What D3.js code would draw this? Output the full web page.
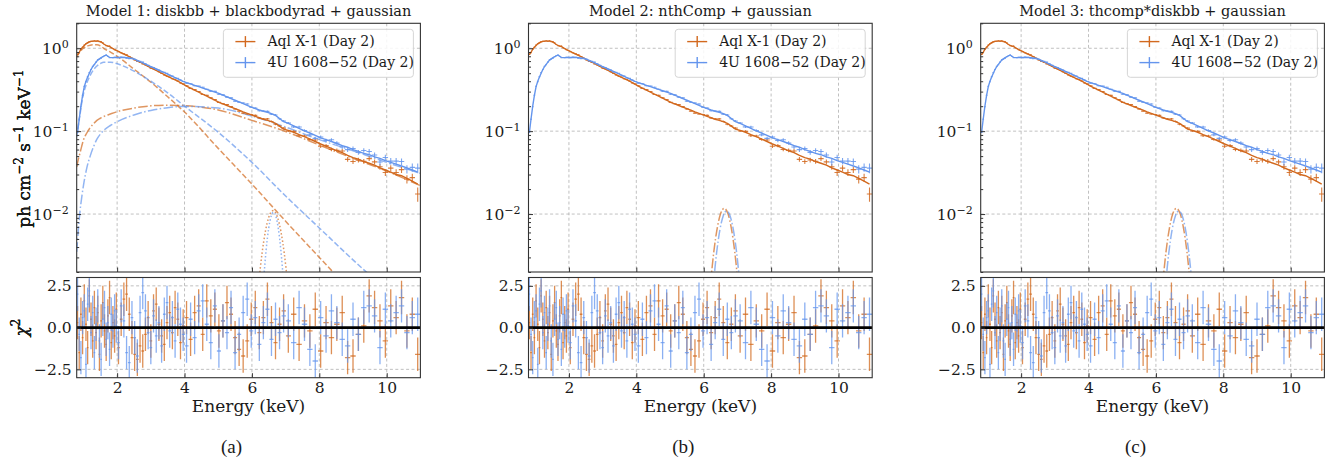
<!DOCTYPE html>
<html lang="en">
<head>
<meta charset="utf-8">
<title>Aql X-1 / 4U 1608-52 spectral fits</title>
<script src="https://d3js.org/d3.v7.min.js"></script>
<style>
  body { margin: 0; background: #fff; }
  svg { font-family: "DejaVu Serif", serif; }
</style>
</head>
<body>
<svg width="1330" height="464"></svg>
<script>
// ---- data ----
const titles = ["Model 1: diskbb + blackbodyrad + gaussian", "Model 2: nthComp + gaussian", "Model 3: thcomp*diskbb + gaussian"];
const captions = ["(a)", "(b)", "(c)"];
const seriesNames = ["Aql X-1 (Day 2)", "4U 1608\u221252 (Day 2)"];
const xTicks = [2, 4, 6, 8, 10];
const logTicks = [0.01, 0.1, 1];
const logTickExp = ["\u22122", "\u22121", "0"];
const resTicks = [-2.5, 0, 2.5];
const resTickLabels = ["\u22122.5", "0.0", "2.5"];

// bin centres (keV)
const energy = [0.825,0.875,0.925,0.975,1.025,1.075,1.125,1.175,1.225,1.275,1.325,1.375,1.425,1.475,1.525,1.575,1.625,1.675,1.725,1.775,1.825,1.875,1.925,1.975,
  2.04,2.12,2.20,2.28,2.36,2.44,2.52,2.60,2.68,2.76,2.84,2.92,3.00,3.08,3.16,3.24,3.32,3.40,3.48,3.56,3.64,3.72,3.80,3.88,3.96,
  4.06,4.18,4.30,4.42,4.54,4.66,4.78,4.90,5.02,5.14,5.26,5.38,5.50,5.62,5.74,5.86,5.98,6.10,6.22,6.34,6.46,6.58,6.70,6.82,6.94,
  7.08,7.24,7.40,7.56,7.72,7.88,8.04,8.20,8.36,8.52,8.68,8.84,9.00,9.16,9.32,9.48,9.64,9.80,9.96,10.12,10.28,10.44,10.60,10.76,10.92];

// total model flux (ph cm^-2 s^-1 keV^-1)
const aqlModel = [0.84,0.90,0.97,1.03,1.08,1.13,1.17,1.19,1.21,1.22,1.22,1.22,1.22,1.21,1.19,1.15,1.11,1.08,1.06,1.05,1.02,0.99,0.965,0.94,
  0.915,0.88,0.85,0.82,0.79,0.76,0.73,0.705,0.68,0.655,0.63,0.605,0.58,0.56,0.54,0.52,0.50,0.48,0.46,0.445,0.43,0.415,0.40,0.385,0.37,
  0.350,0.331,0.313,0.296,0.279,0.264,0.250,0.236,0.223,0.213,0.204,0.195,0.187,0.179,0.171,0.164,0.157,0.151,0.145,0.139,0.135,0.130,0.124,0.115,0.106,
  0.102,0.097,0.091,0.086,0.080,0.075,0.070,0.066,0.062,0.058,0.055,0.051,0.048,0.046,0.043,0.041,0.039,0.036,0.034,0.032,0.030,0.029,0.027,0.025,0.023];
const sourceModel = [0.095,0.14,0.20,0.27,0.345,0.40,0.45,0.50,0.555,0.60,0.64,0.68,0.72,0.745,0.77,0.79,0.81,0.83,0.80,0.775,0.77,0.77,0.775,0.775,
  0.775,0.775,0.775,0.77,0.762,0.752,0.738,0.714,0.69,0.667,0.645,0.623,0.602,0.582,0.562,0.543,0.525,0.507,0.49,0.474,0.458,0.442,0.427,0.413,0.399,
  0.385,0.371,0.357,0.344,0.331,0.319,0.307,0.296,0.285,0.272,0.259,0.247,0.236,0.225,0.215,0.205,0.195,0.187,0.180,0.174,0.169,0.163,0.155,0.142,0.130,
  0.124,0.116,0.108,0.101,0.095,0.089,0.083,0.079,0.075,0.071,0.067,0.064,0.060,0.057,0.054,0.052,0.049,0.047,0.044,0.042,0.040,0.038,0.036,0.034,0.032];

// relative 1-sigma error of each bin
const relErr = [0.012,0.010,0.009,0.008,0.008,0.007,0.007,0.007,0.007,0.007,0.007,0.007,0.007,0.007,0.007,0.007,0.007,0.007,0.007,0.007,0.007,0.007,0.007,0.007,
  0.007,0.007,0.007,0.008,0.008,0.008,0.008,0.008,0.009,0.009,0.009,0.009,0.009,0.010,0.010,0.010,0.010,0.010,0.011,0.011,0.011,0.011,0.012,0.012,0.012,
  0.013,0.013,0.014,0.014,0.015,0.015,0.016,0.016,0.017,0.017,0.018,0.018,0.019,0.019,0.020,0.021,0.021,0.022,0.022,0.023,0.024,0.024,0.025,0.026,0.027,
  0.030,0.032,0.034,0.036,0.038,0.040,0.043,0.046,0.049,0.052,0.055,0.058,0.061,0.065,0.069,0.073,0.077,0.081,0.086,0.091,0.096,0.102,0.110,0.125,0.150];

// residuals (sigma)
const aqlResid = [0.3,-1.5,0.8,-0.6,1.6,0.2,-1.2,1.9,0.5,-0.8,1.2,-0.3,0.9,-1.6,0.4,1.5,-0.2,-1.0,0.7,1.8,-0.9,0.3,-0.5,1.1,
  -1.2,0.5,1.7,2.0,0.8,-0.6,-1.6,-1.9,-1.1,-1.4,-0.4,0.6,-0.8,1.0,1.4,0.2,-0.5,-1.0,0.3,0.9,-0.3,1.2,0.5,-0.9,0.1,
  0.6,-0.7,0.9,1.3,-0.4,1.6,0.7,1.1,-0.2,0.4,1.5,0.8,-0.6,-1.3,-1.7,-0.8,0.5,1.2,-0.3,0.6,1.7,0.3,-0.9,0.2,1.0,
  -0.5,0.8,-1.0,0.4,-0.2,1.1,-1.4,0.3,-0.6,0.2,0.9,-1.8,-1.7,-0.4,0.1,1.9,1.2,0.4,-0.8,1.3,0.6,1.8,-0.2,0.8,-1.6];
const sourceResid = [2.0,-0.4,-1.8,0.6,1.0,-2.2,1.4,2.2,-0.3,0.9,-1.5,0.2,1.3,-0.8,-1.9,0.5,1.2,-0.7,0.3,-1.3,0.8,-0.2,1.0,0.1,
  -0.9,1.3,0.4,-1.5,-2.1,0.6,-0.6,-1.7,0.9,2.1,1.0,-0.3,-1.2,0.7,-0.5,0.3,-1.1,0.8,1.5,-0.2,0.6,-0.8,1.1,0.2,-0.4,
  -1.1,0.5,-0.6,1.0,1.6,0.2,-0.9,1.3,-1.4,0.4,-0.3,1.2,-1.5,-0.4,0.9,1.7,-0.2,0.6,-1.0,0.3,1.1,-0.7,0.5,-0.3,0.7,
  0.4,-0.9,1.2,0.2,-1.3,-2.0,0.6,-0.5,1.0,0.3,-0.7,-1.1,0.5,-0.4,1.2,1.3,0.7,-1.2,1.1,0.4,0.9,1.3,-0.3,0.6,0.8];

// model 1 components
const compE = [0.8,0.85,0.9,0.95,1.0,1.1,1.2,1.3,1.4,1.5,1.6,1.8,2.0,2.5,3.0,3.5,4.0,5.0,6.0,7.0,8.0,9.0,10.0,11.0];
const aqlDisk = [0.78,0.85,0.91,0.96,1.0,1.06,1.09,1.1,1.1,1.07,1.0,0.9,0.80,0.56,0.39,0.26,0.17,0.062,0.023,0.0082,0.003,0.0011,0.0004,0.00015];
const sourceDisk = [0.085,0.12,0.16,0.22,0.28,0.38,0.47,0.55,0.61,0.65,0.68,0.68,0.65,0.53,0.40,0.29,0.20,0.097,0.042,0.0165,0.0068,0.0028,0.0012,0.0005];
const aqlBB = [0.037,0.046,0.055,0.066,0.078,0.095,0.11,0.123,0.135,0.143,0.15,0.161,0.172,0.19,0.202,0.206,0.203,0.18,0.135,0.099,0.068,0.047,0.033,0.022];
const sourceBB = [0.0035,0.0065,0.011,0.016,0.022,0.036,0.05,0.065,0.08,0.092,0.102,0.117,0.13,0.157,0.178,0.192,0.199,0.19,0.152,0.112,0.079,0.058,0.042,0.031];
// gaussian Fe line, model 1
const aqlLineAE = [6.20,6.30,6.40,6.50,6.63,6.76,6.86,6.96,7.06];
const aqlLineA = [0.00146,0.00335,0.00617,0.00915,0.0110,0.00915,0.00617,0.00335,0.00146];
const sourceLineAE = [6.34,6.42,6.50,6.57,6.64,6.71,6.78,6.86,6.94];
const sourceLineA = [0.00146,0.00363,0.00683,0.00943,0.0105,0.00943,0.00683,0.00363,0.00146];
// gaussian Fe line, models 2 and 3
const aqlLineBE = [6.20,6.30,6.40,6.50,6.61,6.72,6.82,6.92,7.02];
const aqlLineB = [0.00143,0.00352,0.00674,0.01006,0.0117,0.01006,0.00674,0.00352,0.00143];
const sourceLineBE = [6.28,6.38,6.48,6.58,6.68,6.78,6.88,6.98,7.08];
const sourceLineB = [0.00133,0.00334,0.00644,0.00956,0.0109,0.00956,0.00644,0.00334,0.00133];

// ---- layout ----
const svg = d3.select("svg");
const orange = "#d2691e";
const blue = "#6495ed";
const ink = "#1a1a1a";
const panelLeft = [76.7, 528.5, 980.7];
const panelW = 343.7;
const topY = 23.3, topH = 248.7;
const resY = 277.5, resH = 100.2;

const x = d3.scaleLinear().domain([0.8, 11]).range([0, panelW]);
const y = d3.scaleLog().domain([0.002, 2]).range([topH, 0]);
const yr = d3.scaleLinear().domain([-3, 3]).range([resH, 0]);

const edges = energy.map((e, i) => {
  const lo = i === 0 ? e - (energy[1] - e) / 2 : (energy[i - 1] + e) / 2;
  const hi = i === energy.length - 1 ? e + (e - energy[i - 1]) / 2 : (e + energy[i + 1]) / 2;
  return [lo, hi];
});

const sources = [
  {name: seriesNames[0], color: orange, model: aqlModel, resid: aqlResid},
  {name: seriesNames[1], color: blue, model: sourceModel, resid: sourceResid}
];
// data = model + residual * sigma
sources.forEach(s => {
  s.bins = energy.map((e, i) => ({
    e: e, lo: edges[i][0], hi: edges[i][1], m: s.model[i], r: s.resid[i],
    err: s.model[i] * relErr[i],
    f: s.model[i] * (1 + s.resid[i] * relErr[i])
  }));
});

const components = [
  [
    {e: compE, v: aqlDisk, c: orange, dash: "5.5,2.4"},
    {e: compE, v: sourceDisk, c: blue, dash: "5.5,2.4"},
    {e: compE, v: aqlBB, c: orange, dash: "9.6,2.4,1.5,2.4"},
    {e: compE, v: sourceBB, c: blue, dash: "9.6,2.4,1.5,2.4"},
    {e: aqlLineAE, v: aqlLineA, c: orange, dash: "1.5,2.2"},
    {e: sourceLineAE, v: sourceLineA, c: blue, dash: "1.5,2.2"}
  ],
  [
    {e: aqlLineBE, v: aqlLineB, c: orange, dash: "9.6,2.4,1.5,2.4"},
    {e: sourceLineBE, v: sourceLineB, c: blue, dash: "9.6,2.4,1.5,2.4"}
  ],
  [
    {e: aqlLineBE, v: aqlLineB, c: orange, dash: "9.6,2.4,1.5,2.4"},
    {e: sourceLineBE, v: sourceLineB, c: blue, dash: "9.6,2.4,1.5,2.4"}
  ]
];

const gridStyle = sel => sel.attr("stroke", "#b0b0b0").attr("stroke-width", 0.8).attr("stroke-dasharray", "3,2.4");
const tickFont = "15.5px";

panelLeft.forEach((px, p) => {
  // ---------- upper: spectrum ----------
  const g = svg.append("g").attr("transform", `translate(${px},${topY})`);
  g.append("clipPath").attr("id", "clipTop" + p)
    .append("rect").attr("width", panelW).attr("height", topH);

  g.append("g").selectAll("line").data(xTicks).join("line")
    .attr("x1", d => x(d)).attr("x2", d => x(d)).attr("y1", 0).attr("y2", topH).call(gridStyle);
  g.append("g").selectAll("line").data(logTicks).join("line")
    .attr("x1", 0).attr("x2", panelW).attr("y1", d => y(d)).attr("y2", d => y(d)).call(gridStyle);

  const plot = g.append("g").attr("clip-path", `url(#clipTop${p})`);

  // model components
  const compLine = d3.line().curve(d3.curveMonotoneX);
  components[p].forEach(c => {
    plot.append("path")
      .attr("d", compLine(c.e.map((e, i) => [x(e), y(c.v[i])])))
      .attr("fill", "none").attr("stroke", c.c).attr("stroke-opacity", 0.7)
      .attr("stroke-width", 1.5).attr("stroke-dasharray", c.dash);
  });

  // data + total model
  sources.forEach(s => {
    const sg = plot.append("g");
    sg.append("path")
      .attr("d", d3.line().x(d => x(d.e)).y(d => y(d.m))(s.bins))
      .attr("fill", "none").attr("stroke", s.color).attr("stroke-width", 1.4);
    sg.selectAll("line.h").data(s.bins).join("line").attr("class", "h")
      .attr("x1", d => x(d.lo)).attr("x2", d => x(d.hi))
      .attr("y1", d => y(d.f)).attr("y2", d => y(d.f))
      .attr("stroke", s.color).attr("stroke-width", 1.1).attr("stroke-opacity", 0.85);
    sg.selectAll("line.v").data(s.bins).join("line").attr("class", "v")
      .attr("x1", d => x(d.e)).attr("x2", d => x(d.e))
      .attr("y1", d => y(d.f - d.err)).attr("y2", d => y(d.f + d.err))
      .attr("stroke", s.color).attr("stroke-width", 1.1).attr("stroke-opacity", 0.85);
  });

  // axes (inward ticks)
  g.append("g").attr("transform", `translate(0,${topH})`)
    .call(d3.axisBottom(x).tickValues(xTicks).tickSize(-4.5).tickFormat(""))
    .call(a => a.select(".domain").remove())
    .call(a => a.selectAll("line").attr("stroke", "#333"));
  g.append("g")
    .call(d3.axisLeft(y).tickValues(y.ticks().filter(v => !logTicks.some(t => Math.abs(t - v) < 1e-9))).tickSize(-2.5).tickFormat(""))
    .call(a => a.select(".domain").remove())
    .call(a => a.selectAll("line").attr("stroke", "#333"));
  g.append("g")
    .call(d3.axisLeft(y).tickValues(logTicks).tickSize(-4.5).tickPadding(8))
    .call(a => a.select(".domain").remove())
    .call(a => a.selectAll("line").attr("stroke", "#333"))
    .call(a => a.selectAll("text").attr("font-family", "DejaVu Serif").attr("font-size", tickFont).attr("fill", ink)
      .each(function (d, i) {
        const t = d3.select(this).text("");
        t.append("tspan").text("10");
        t.append("tspan").attr("dy", -6).attr("font-size", "11px").text(logTickExp[i]);
      }));
  g.append("rect").attr("width", panelW).attr("height", topH)
    .attr("fill", "none").attr("stroke", "#333").attr("stroke-width", 1.1);

  // title
  g.append("text").attr("x", panelW / 2).attr("y", -7).attr("text-anchor", "middle")
    .attr("font-size", "14.5px").attr("fill", ink).text(titles[p]);

  // y label
  const yl = g.append("text").attr("transform", `translate(${30 - px},${topH / 2 + 1}) rotate(-90)`)
    .attr("text-anchor", "middle").attr("font-size", "17px").attr("fill", ink);
  [["ph cm", 0], ["\u22122", 1], [" s", 0], ["\u22121", 1], [" keV", 0], ["\u22121", 1]].forEach(([txt, sup], k) => {
    const ts = yl.append("tspan").text(txt);
    if (sup) ts.attr("font-size", "12px").attr("dy", -7);
    else if (k > 0) ts.attr("dy", 7);
  });

  // legend
  const lw = 190, lh = 48;
  const lg = g.append("g").attr("transform", `translate(${panelW - 7 - lw},${6})`);
  lg.append("rect").attr("width", lw).attr("height", lh).attr("rx", 3)
    .attr("fill", "#fff").attr("fill-opacity", 0.85).attr("stroke", "#d0d0d0").attr("stroke-width", 0.9);
  sources.forEach((s, k) => {
    const cy = 12.3 + k * 21;
    lg.append("line").attr("x1", 12).attr("x2", 32).attr("y1", cy).attr("y2", cy).attr("stroke", s.color).attr("stroke-width", 1.4);
    lg.append("line").attr("x1", 22).attr("x2", 22).attr("y1", cy - 5.5).attr("y2", cy + 5.5).attr("stroke", s.color).attr("stroke-width", 1.4);
    lg.append("text").attr("x", 44).attr("y", cy + 4.8).attr("font-size", "14px").attr("fill", ink).text(s.name);
  });

  // ---------- lower: residuals ----------
  const r = svg.append("g").attr("transform", `translate(${px},${resY})`);
  r.append("clipPath").attr("id", "clipRes" + p)
    .append("rect").attr("width", panelW).attr("height", resH);
  r.append("g").selectAll("line").data(xTicks).join("line")
    .attr("x1", d => x(d)).attr("x2", d => x(d)).attr("y1", 0).attr("y2", resH).call(gridStyle);
  r.append("g").selectAll("line").data(resTicks).join("line")
    .attr("x1", 0).attr("x2", panelW).attr("y1", d => yr(d)).attr("y2", d => yr(d)).call(gridStyle);

  const rp = r.append("g").attr("clip-path", `url(#clipRes${p})`);
  sources.forEach(s => {
    const sg = rp.append("g").attr("stroke", s.color).attr("stroke-opacity", 0.75).attr("stroke-width", 1.3);
    sg.selectAll("line.h").data(s.bins).join("line").attr("class", "h")
      .attr("x1", d => x(d.lo)).attr("x2", d => x(d.hi))
      .attr("y1", d => yr(d.r)).attr("y2", d => yr(d.r));
    sg.selectAll("line.v").data(s.bins).join("line").attr("class", "v")
      .attr("x1", d => x(d.e)).attr("x2", d => x(d.e))
      .attr("y1", d => yr(d.r - 1)).attr("y2", d => yr(d.r + 1));
  });
  rp.append("line").attr("x1", 0).attr("x2", panelW).attr("y1", yr(0)).attr("y2", yr(0))
    .attr("stroke", "#000").attr("stroke-width", 2.8);

  r.append("g").attr("transform", `translate(0,${resH})`)
    .call(d3.axisBottom(x).tickValues(xTicks).tickSize(-4.5).tickPadding(4.5))
    .call(a => a.select(".domain").remove())
    .call(a => a.selectAll("line").attr("stroke", "#333"))
    .call(a => a.selectAll("text").attr("font-family", "DejaVu Serif").attr("font-size", tickFont).attr("fill", ink));
  r.append("g")
    .call(d3.axisLeft(yr).tickValues(resTicks).tickSize(-4.5).tickPadding(5).tickFormat((d, i) => resTickLabels[i]))
    .call(a => a.select(".domain").remove())
    .call(a => a.selectAll("line").attr("stroke", "#333"))
    .call(a => a.selectAll("text").attr("font-family", "DejaVu Serif").attr("font-size", tickFont).attr("fill", ink));
  r.append("rect").attr("width", panelW).attr("height", resH)
    .attr("fill", "none").attr("stroke", "#333").attr("stroke-width", 1.1);

  // chi label
  const cl = r.append("text").attr("transform", `translate(${27 - px},${resH / 2}) rotate(-90)`)
    .attr("text-anchor", "middle").attr("font-size", "17px").attr("fill", ink);
  cl.append("tspan").attr("font-style", "italic").text("\u03c7");
  cl.append("tspan").attr("font-size", "12px").attr("dy", -7).text("2");

  // x label
  r.append("text").attr("x", panelW / 2).attr("y", resH + 34.5).attr("text-anchor", "middle")
    .attr("font-size", "17px").attr("fill", ink).text("Energy (keV)");

  // caption
  svg.append("text").attr("x", px + panelW / 2 - 17).attr("y", 453).attr("text-anchor", "middle")
    .attr("font-family", "Liberation Serif").attr("font-size", "19px").attr("fill", ink).text(captions[p]);
});
</script>
</body>
</html>
